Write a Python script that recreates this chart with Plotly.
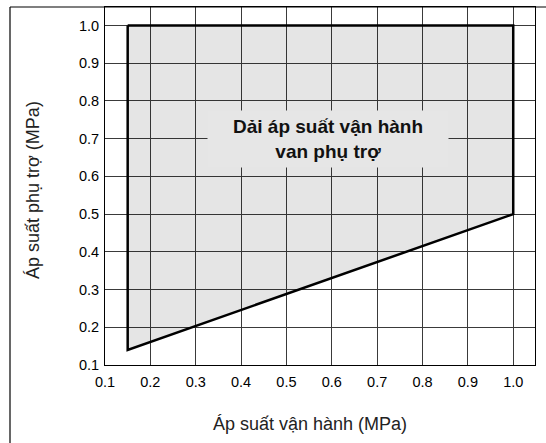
import plotly.graph_objects as go

# Operating envelope of the pilot valve (MPa)
boundary_x = [0.15, 1.0, 1.0, 0.15, 0.15]
boundary_y = [1.0, 1.0, 0.50, 0.14, 1.0]

tick_vals = [0.1, 0.2, 0.3, 0.4, 0.5, 0.6, 0.7, 0.8, 0.9, 1.0]
tick_text = ["0.1", "0.2", "0.3", "0.4", "0.5", "0.6", "0.7", "0.8", "0.9", "1.0"]

region_label = "Dải áp suất vận hành<br>van phụ trợ"
x_title = "Áp suất vận hành (MPa)"
y_title = "Áp suất phụ trợ (MPa)"

FONT = "Liberation Sans, Arial, Helvetica, sans-serif"
W, H = 546, 443
ML, MR, MT, MB = 105, 11, 7, 78
PW = W - ML - MR
PH = H - MT - MB


def px_x(p):
    return (p - ML) / PW


def px_y(p):
    return (H - MB - p) / PH


fig = go.Figure()
fig.add_trace(go.Scatter(
    x=boundary_x, y=boundary_y,
    mode="lines",
    fill="toself",
    fillcolor="rgba(0,0,0,0.10)",
    line=dict(color="black", width=2.5),
    hoverinfo="skip",
    showlegend=False,
))

fig.add_annotation(
    x=0.591, y=0.70, xref="x", yref="y",
    text="<b>" + region_label + "</b>",
    showarrow=False,
    font=dict(family=FONT, size=19, color="#111"),
    bgcolor="#e6e6e6",
    width=236, height=52, borderpad=2,
    align="center",
)

# axis titles
fig.add_annotation(
    x=px_x(310), y=px_y(424), xref="paper", yref="paper",
    text=x_title, showarrow=False,
    font=dict(family=FONT, size=18, color="#222"),
    xanchor="center", yanchor="middle",
)
fig.add_annotation(
    x=px_x(33), y=px_y(190), xref="paper", yref="paper",
    text=y_title, showarrow=False, textangle=-90,
    font=dict(family=FONT, size=18, color="#222"),
    xanchor="center", yanchor="middle",
)

axis_common = dict(
    tickvals=tick_vals, ticktext=tick_text,
    showgrid=True, gridcolor="#3a3a3a", gridwidth=1,
    showline=True, linecolor="black", linewidth=1, mirror=True,
    ticks="", zeroline=False,
    tickfont=dict(family=FONT, size=14.5, color="black"),
    layer="below traces",
)

fig.update_xaxes(range=[0.1, 1.048], ticklabelstandoff=4, **axis_common)
fig.update_yaxes(range=[0.1, 1.049], ticklabelstandoff=2, **axis_common)

# outer frame lines (left and top edges)
fig.add_shape(type="line", xref="paper", yref="paper",
              x0=px_x(10), x1=px_x(10), y0=1, y1=px_y(H + 5),
              line=dict(color="black", width=1.2))
fig.add_shape(type="line", xref="paper", yref="paper",
              x0=px_x(10), x1=px_x(W + 5), y0=1, y1=1,
              line=dict(color="black", width=1.2))

fig.update_layout(
    width=W, height=H,
    margin=dict(l=ML, r=MR, t=MT, b=MB),
    paper_bgcolor="white", plot_bgcolor="white",
    font=dict(family=FONT),
)

fig.write_html("out.html")
